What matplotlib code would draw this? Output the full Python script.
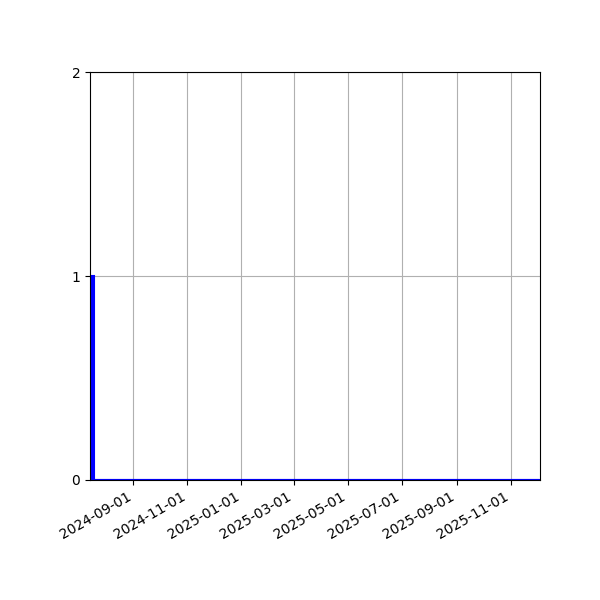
import matplotlib
matplotlib.use('Agg')
import matplotlib.pyplot as plt
import matplotlib.dates as mdates
import pandas as pd

# daily counts, only the first day has an entry
dates = pd.date_range('2024-07-17', '2025-12-03', freq='D')
counts = [1] + [0] * (len(dates) - 1)

fig, ax = plt.subplots(figsize=(6, 6), dpi=100)
ax.bar(dates, counts, width=2, color='blue', edgecolor='blue', linewidth=1.5)

ax.set_xlim(pd.Timestamp('2024-07-14'), pd.Timestamp('2025-12-04'))
ax.set_ylim(0, 2)
ax.set_yticks([0, 1, 2])
ax.xaxis.set_major_locator(mdates.MonthLocator(bymonth=[1, 3, 5, 7, 9, 11]))
ax.xaxis.set_major_formatter(mdates.DateFormatter('%Y-%m-%d'))
ax.grid(True)
ax.set_axisbelow(True)

fig.autofmt_xdate()
fig.subplots_adjust(left=0.15, right=0.9, top=0.88, bottom=0.2)
plt.savefig('out.png')
